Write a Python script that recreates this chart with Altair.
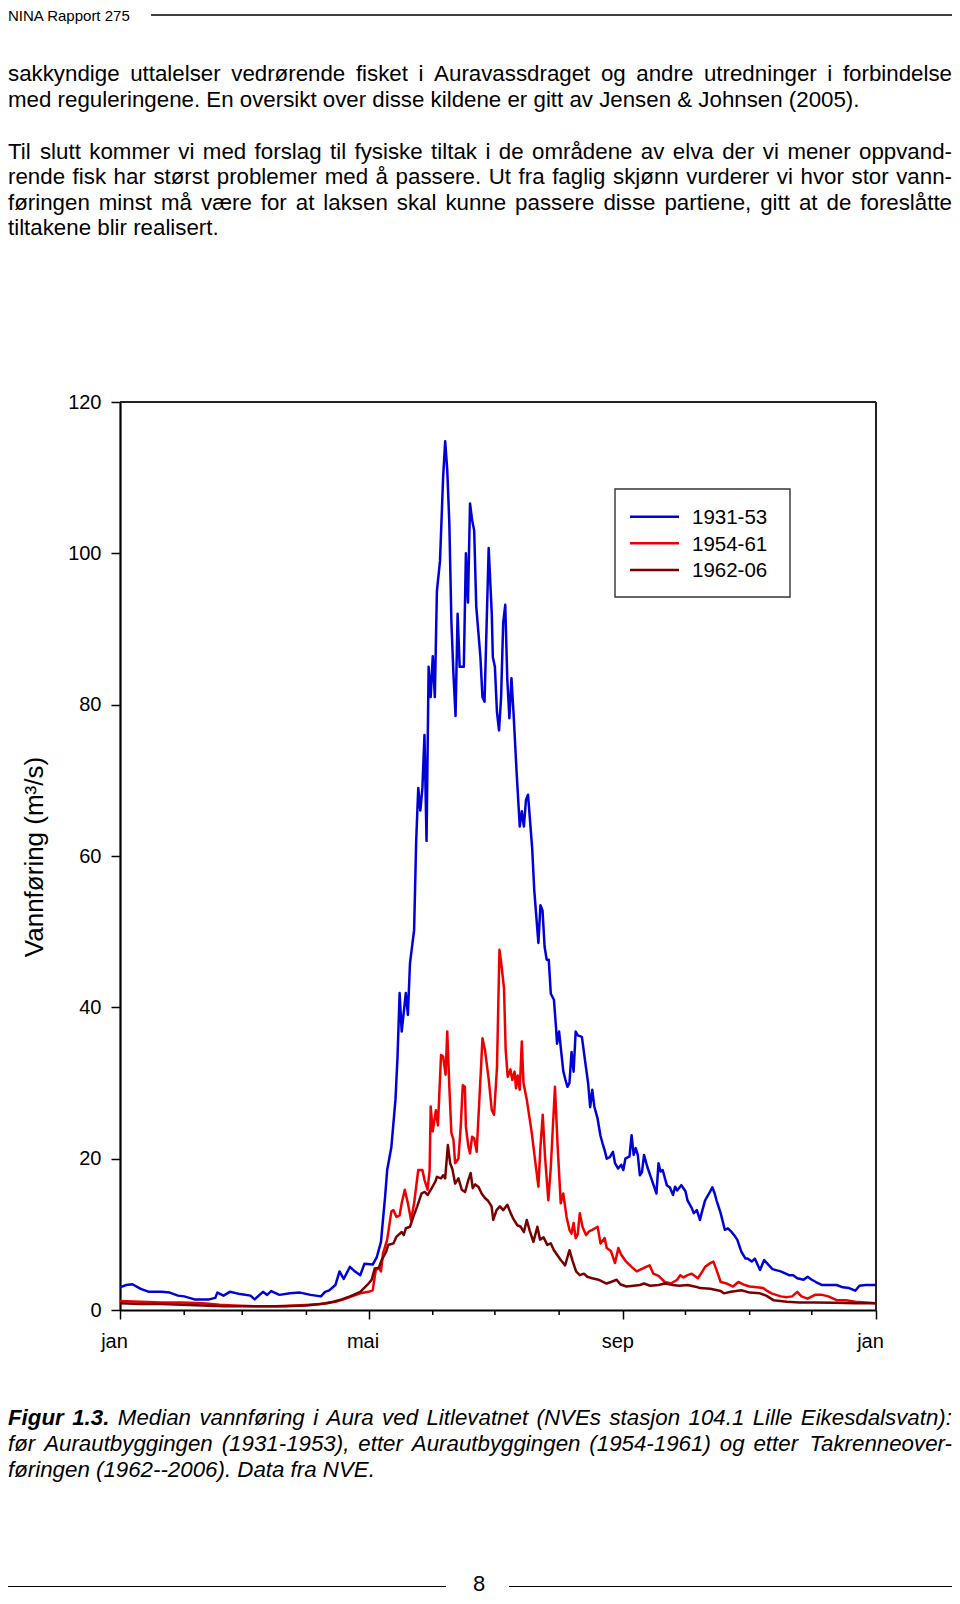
import altair as alt
import pandas as pd

FONT = "Liberation Sans"

# ---------------- text content ----------------
header_label = "NINA Rapport 275"
page_number = "8"
paragraph_1 = [
    "sakkyndige uttalelser vedrørende fisket i Auravassdraget og andre utredninger i forbindelse",
    "med reguleringene. En oversikt over disse kildene er gitt av Jensen & Johnsen (2005).",
]
paragraph_2 = [
    "Til slutt kommer vi med forslag til fysiske tiltak i de områdene av elva der vi mener oppvand-",
    "rende fisk har størst problemer med å passere. Ut fra faglig skjønn vurderer vi hvor stor vann-",
    "føringen minst må være for at laksen skal kunne passere disse partiene, gitt at de foreslåtte",
    "tiltakene blir realisert.",
]
caption_bold = "Figur 1.3."
caption_lines = [
    "Median vannføring i Aura ved Litlevatnet (NVEs stasjon 104.1 Lille Eikesdalsvatn):",
    "før Aurautbyggingen (1931-1953), etter Aurautbyggingen (1954-1961) og etter Takrenneover-",
    "føringen (1962--2006). Data fra NVE.",
]
y_title = "Vannføring (m³/s)"

series_names = ["1931-53", "1954-61", "1962-06"]
series_colors = ["#0000d8", "#ee0000", "#780000"]

month_minor = [31, 59, 90, 151, 181, 212, 273, 304, 334]
major_days = [0, 120, 243, 365]
major_labels = ["jan", "mai", "sep", "jan"]
y_ticks = [0, 20, 40, 60, 80, 100, 120]

# ---------------- data (day of year, m3/s) ----------------
blue_day = [0, 3, 6, 10, 14, 20, 24, 28, 31, 36, 43, 46, 47, 50, 53, 58, 63, 65, 69, 71, 73, 77, 82, 87, 92, 97, 99, 101,
            104, 106, 108, 111, 113, 116, 118, 122, 124, 126, 127, 128, 129, 131, 133, 134, 135, 136, 138, 139, 140, 142,
            143, 144, 145, 146, 147, 148, 149, 150, 151, 152, 153, 154.5, 156, 157, 158, 159, 160, 161, 162, 163, 164,
            166, 167, 168, 169, 170, 171, 172, 174, 175, 176, 178, 179.5, 180, 181, 182, 183, 184, 185, 186, 187, 188,
            189, 190, 191.5, 193, 194, 195, 196, 197, 199, 200, 202, 203, 204, 205, 206, 207, 208, 209.5, 210.5, 211,
            212, 214, 215, 216, 217, 218, 219, 220, 221, 223, 225, 226, 227, 228, 229, 230.5, 232, 233, 234, 235, 236.5,
            238, 239, 240.5, 242, 243, 244, 246, 247, 248, 249, 250, 251, 252, 253, 254.5, 256, 257, 259, 260, 261, 262,
            264, 265.5, 267, 268, 269, 271, 273, 274, 276, 277, 278.5, 280, 281, 282.5, 284, 286, 287, 288, 290, 292,
            293.5, 295, 297, 298, 300, 302, 303, 305, 306.5, 309, 311, 313, 315, 319, 323, 325, 327, 330, 332, 334, 336,
            339, 343, 346, 349, 352, 355, 357, 360, 365]
blue_q = [3.0, 3.3, 3.4, 2.8, 2.4, 2.4, 2.3, 1.9, 1.8, 1.4, 1.4, 1.6, 2.3, 1.9, 2.4, 2.1, 1.9, 1.4, 2.4, 2.0, 2.5, 2.0,
          2.2, 2.3, 2.0, 1.8, 2.4, 2.6, 3.3, 5.1, 4.1, 5.7, 5.2, 4.6, 6.1, 6.0, 7.0, 9.0, 12, 15, 18.5, 21.5, 27.8,
          33.5, 41.9, 36.8, 41.9, 39, 45.8, 50.2, 62, 69, 66, 69, 76, 62, 85, 81, 86.4, 81, 95, 99, 110, 114.8, 111,
          104, 91, 84, 78.5, 92, 85, 85, 100, 93.5, 106.6, 104.4, 103, 93, 86.3, 81, 80.4, 100.7, 92, 86.3, 85, 79,
          76.6, 81, 90.8, 93.2, 83.3, 78.2, 83.5, 78.9, 71, 63.9, 65.9, 63.9, 67.4, 68.1, 61, 55.5, 48.5, 53.5, 52.8,
          48, 46.3, 46.3, 41.8, 41, 37.4, 35.2, 36.8, 31.6, 30.5, 29.5, 30, 34.1, 31.5, 36.8, 36.3, 36.1, 32, 30, 26.8,
          29.1, 26.9, 25.4, 23, 22, 21.1, 20, 20.2, 20.9, 19.4, 18.7, 19.2, 18.5, 20, 20.3, 23.1, 20.5, 21.4, 20.5,
          17.8, 18.2, 20.5, 19, 17.8, 17, 15.4, 19.4, 18.3, 18.5, 16.5, 16.2, 15.2, 16.3, 15.8, 16.5, 15.7, 14.5, 13.5,
          12.8, 13.2, 11.9, 13, 14.5, 15.2, 16.2, 15.5, 14.5, 12.8, 10.6, 10.8, 10.4, 9.7, 9.3, 7.7, 6.8, 6.8, 6.4,
          6.8, 5.3, 6.6, 6.0, 5.4, 5.1, 4.6, 4.6, 4.2, 4.0, 4.4, 4.0, 3.7, 3.3, 3.3, 3.3, 3.0, 2.9, 2.55, 3.2, 3.3, 3.3]

red_day = [0, 10, 20, 30, 40, 48, 55, 65, 75, 85, 92, 97, 101, 104, 108, 111, 116, 120, 122, 123.5, 125, 126, 127, 129,
           131, 132, 133.5, 135, 136, 137.5, 139, 140.5, 142, 144, 146, 147, 148.5, 149.5, 150, 151, 152.5, 153.5, 155,
           156, 157.2, 158, 159, 160, 161, 161.8, 163.4, 164.5, 165.5, 166.5, 167, 168.2, 169, 170, 171, 172.2, 174,
           175, 176.2, 178, 179.5, 180.6, 182, 183.2, 184, 185.4, 186.2, 187.2, 188.5, 189.4, 190.5, 191.2, 192, 193,
           194, 194.8, 196.4, 198.8, 200.4, 202, 203, 204.1, 205.2, 206.8, 208, 210, 211.3, 212.8, 214, 215.6, 217,
           218, 219, 220, 221, 222, 223.3, 225, 226.5, 228, 230.6, 232, 234, 235, 237, 239, 240.6, 242, 244, 247,
           249.5, 251, 254, 255.7, 257.5, 260, 263, 266, 269, 270.5, 272, 274, 276, 279, 280.5, 282.5, 285, 286.5, 288,
           290, 293, 296, 298.5, 301.7, 304, 307.5, 310.5, 312, 314.6, 319, 322, 324.5, 327, 329, 332, 335.5, 339, 342,
           346, 350.5, 355, 365]
red_q = [1.2, 1.1, 1.0, 1.0, 0.9, 0.7, 0.6, 0.5, 0.5, 0.6, 0.7, 0.8, 1.0, 1.1, 1.4, 1.7, 2.2, 2.4, 2.6, 5.3, 5.5, 5.1,
         7.5, 9.3, 13, 13.2, 12.3, 12.5, 14.1, 15.9, 14.1, 11.9, 14.1, 18.5, 18.5, 17.2, 15.9, 18.5, 26.9, 23.6, 26.4,
         24.4, 33.7, 33.5, 31.1, 36.8, 29.5, 23.4, 22.5, 19.4, 20, 24.2, 29.7, 29.5, 24.2, 21.6, 20.7, 22.9, 22.7,
         20.9, 30.4, 35.9, 34.4, 30.5, 26.4, 25.8, 32, 47.6, 46, 42.5, 34.4, 30.8, 31.8, 30.4, 31.5, 29.3, 31, 29.1,
         35.5, 30, 27.8, 23.4, 19.8, 16.3, 21.6, 25.8, 20.3, 14.5, 18.9, 29.5, 21.6, 14.1, 15.4, 12.3, 10.6, 10.1,
         11.5, 9.5, 10, 12.8, 11, 9.9, 10.4, 10.6, 11, 8.8, 9.5, 8.2, 7.8, 6.2, 8.2, 7.3, 6.5, 5.7, 5.1, 5.3, 5.7,
         5.9, 4.8, 4.5, 3.7, 3.5, 4.0, 4.6, 4.3, 4.6, 4.8, 4.2, 4.8, 5.7, 6.2, 6.4, 5.3, 3.7, 3.5, 3.1, 3.7, 3.3, 3.1,
         3.0, 2.9, 2.6, 2.2, 1.8, 1.7, 1.8, 2.4, 1.8, 1.5, 2.0, 2.0, 1.8, 1.3, 1.3, 1.1, 0.9]

dark_day = [0, 10, 20, 30, 40, 50, 60, 70, 80, 90, 100, 103, 107, 111, 116, 120, 121.5, 123, 125, 126.3, 128.5, 129.5,
            132, 133.5, 136, 137, 138, 140, 141.6, 143.5, 145.6, 147.2, 148.5, 150.5, 152.3, 153, 155, 156, 157,
            158.3, 159.4, 160.5, 161.8, 163.4, 165, 166.6, 168.2, 169.3, 170.3, 171.5, 173, 174.6, 176.2, 177.8,
            179.4, 180.2, 181.8, 183.4, 185, 187, 188.6, 190, 191.8, 193.5, 195, 196.4, 197.8, 199.6, 201.5, 202.8,
            204.5, 206.3, 208, 209.5, 211, 212.8, 214.9, 217, 218.5, 220.2, 222, 224, 225.6, 228, 231, 234.9, 237,
            239.8, 241.5, 244.5, 248, 251, 253, 256, 260, 263, 267, 270, 274, 279, 280, 285, 290, 291.5, 295, 300,
            304, 309, 312, 315.5, 322, 328, 335, 345, 355, 365]
dark_q = [0.9, 0.8, 0.8, 0.7, 0.6, 0.5, 0.5, 0.5, 0.5, 0.6, 0.9, 1.1, 1.4, 1.8, 2.4, 3.5, 4.0, 5.5, 5.6, 6.6, 7.7, 8.6,
          8.8, 9.7, 10.3, 9.9, 10.8, 11, 12.3, 13.7, 15.4, 15.6, 15.2, 16.1, 17.0, 17.6, 17.4, 17.8, 17.4, 21.8,
          19.4, 18.6, 16.7, 17.4, 15.9, 15.6, 17.2, 18.1, 16.1, 16.6, 16.3, 15.4, 14.8, 14.4, 13.7, 11.9, 13.2,
          13.7, 13.2, 13.9, 12.8, 12, 11.2, 11, 10.3, 11.9, 10.5, 9.0, 11, 9.3, 9.6, 8.6, 8.8, 7.9, 7.3, 6.6, 5.9,
          7.9, 6.5, 5.1, 4.6, 4.8, 4.4, 4.2, 4.0, 3.5, 3.7, 4.0, 3.4, 3.1, 3.2, 3.3, 3.5, 3.2, 3.3, 3.5, 3.3, 3.2,
          3.3, 3.0, 2.9, 2.8, 2.5, 2.2, 2.4, 2.6, 2.3, 2.2, 1.9, 1.3, 1.1, 1.0, 1.0, 0.95, 0.9, 0.9]

frames = []
for name, d, q in zip(series_names, [blue_day, red_day, dark_day], [blue_q, red_q, dark_q]):
    frames.append(pd.DataFrame({"day": d, "q": q, "series": name}))
df = pd.concat(frames, ignore_index=True)

# ---------------- page geometry (plot area origin = page 120,402) ----------------
PLOT_W, PLOT_H = 756, 908
PAD = {"left": 112, "top": 394, "right": 76, "bottom": 286}
OX, OY = 120, 402
X_LEFT = 8 - OX
X_RIGHT = 952 - OX
BODY_SIZE = 22.3

REG_W = {' ': 278, '!': 278, '&': 667, '(': 333, ')': 333, ',': 278, '-': 333, '.': 278, '/': 278, ':': 278, ';': 278,
         'å': 556, 'ø': 611, 'æ': 889, 'Å': 667, 'Ø': 778, 'Æ': 1000}
for ch in "0123456789":
    REG_W[ch] = 556
REG_W.update(dict(zip("ABCDEFGHIJKLMNOPQRSTUVWXYZ",
                      [667, 667, 722, 722, 667, 611, 778, 722, 278, 500, 667, 556, 833, 722, 778, 667, 778, 722, 667,
                       611, 722, 667, 944, 667, 667, 611])))
REG_W.update(dict(zip("abcdefghijklmnopqrstuvwxyz",
                      [556, 556, 500, 556, 556, 278, 556, 556, 222, 222, 500, 222, 833, 556, 556, 556, 556, 333, 500,
                       278, 556, 500, 722, 500, 500, 500])))
BOLD_W = {'F': 611, 'i': 278, 'g': 611, 'u': 611, 'r': 389, '.': 278, ' ': 278}
for ch in "0123456789":
    BOLD_W[ch] = 556


def text_width(s, size, bold=False):
    tot = 0
    for ch in s:
        if bold and ch in BOLD_W:
            tot += BOLD_W[ch]
        else:
            tot += REG_W.get(ch, 556)
    return tot * size / 1000.0


ONE = alt.Data(values=[{"k": 0}])


def text_mark(txt, x, y, size, weight="normal", style="normal", align="left", baseline="alphabetic"):
    return alt.Chart(ONE).mark_text(
        font=FONT, fontSize=size, fontWeight=weight, fontStyle=style, align=align, baseline=baseline, color="black"
    ).encode(x=alt.value(x), y=alt.value(y), text=alt.value(txt))


def hrule(x1, x2, y, width=1.2, col="black"):
    return alt.Chart(ONE).mark_rule(color=col, strokeWidth=width).encode(
        x=alt.value(x1), x2=alt.value(x2), y=alt.value(y))


def vrule(x, y1, y2, width=1.2, col="black"):
    return alt.Chart(ONE).mark_rule(color=col, strokeWidth=width).encode(
        x=alt.value(x), y=alt.value(y1), y2=alt.value(y2))


def line_layers(words, y, justify, size, style="normal"):
    out = []
    if not justify:
        out.append(text_mark(" ".join(w for w, b in words), X_LEFT, y, size, style=style))
        return out
    widths = [text_width(w, size, b) for w, b in words]
    gap = (X_RIGHT - X_LEFT - sum(widths)) / (len(words) - 1)
    x = X_LEFT
    for i, ((w, b), wd) in enumerate(zip(words, widths)):
        weight = "bold" if b else "normal"
        if i == len(words) - 1:
            out.append(text_mark(w, X_RIGHT, y, size, weight, style, align="right"))
        else:
            out.append(text_mark(w, x, y, size, weight, style))
        x += wd + gap
    return out


layers = []
# header (kept inside the page's drawable area)
layers.append(text_mark(header_label, X_LEFT, 21 - OY, 15))
layers.append(hrule(151 - OX, 952 - OX, 15 - OY, 1.3))

# body paragraphs
body_base = [81, 106.5, 158.5, 184, 209.5, 235]
body_lines = paragraph_1 + paragraph_2
body_just = [True, False, True, True, True, False]
for txt, yb, j in zip(body_lines, body_base, body_just):
    layers += line_layers([(w, False) for w in txt.split(" ")], yb - OY, j, BODY_SIZE)

# caption
cap_base = [1425, 1451, 1477]
cap_words0 = [(w, True) for w in caption_bold.split(" ")] + [(w, False) for w in caption_lines[0].split(" ")]
layers += line_layers(cap_words0, cap_base[0] - OY, True, BODY_SIZE, "italic")
layers += line_layers([(w, False) for w in caption_lines[1].split(" ")], cap_base[1] - OY, True, BODY_SIZE, "italic")
layers += line_layers([(w, False) for w in caption_lines[2].split(" ")], cap_base[2] - OY, False, BODY_SIZE, "italic")

# footer (kept inside the page)
layers.append(hrule(8 - OX, 446 - OX, 1586.5 - OY, 1.2))
layers.append(hrule(509 - OX, 952 - OX, 1586.5 - OY, 1.2))
layers.append(text_mark(page_number, 479 - OX, 1590.5 - OY, 22, align="center"))

# plot frame (top and right edges)
layers.append(hrule(0, PLOT_W, 0, 2, "#222222"))
layers.append(vrule(PLOT_W, 0, PLOT_H, 2, "#222222"))

# ---------------- chart ----------------
x_scale = alt.Scale(domain=[0, 365], nice=False, zero=False)
y_scale = alt.Scale(domain=[0, 120], nice=False)
label_expr = " : ".join(f"datum.value == {d} ? '{l}'" for d, l in zip(major_days, major_labels)) + " : ''"
x_axis = alt.Axis(values=major_days, labelExpr=label_expr, title=None, tickSize=9, tickWidth=1.5, tickColor="black",
                  domainColor="black", domainWidth=2.2, labelFont=FONT, labelFontSize=20, labelColor="black",
                  labelPadding=28.5, labelBaseline="alphabetic", labelOffset=-6, labelFlush=False, labelOverlap=False,
                  grid=False)
y_axis = alt.Axis(values=y_ticks, title=y_title, titleFont=FONT, titleFontSize=26, titleFontWeight="normal",
                  titleColor="black", titleX=-78, titleY=454.5, titleAngle=270, titleBaseline="alphabetic",
                  titleAlign="center", tickSize=9, tickWidth=1.5, tickColor="black", domainColor="black",
                  domainWidth=2.2, labelFont=FONT, labelFontSize=20, labelColor="black", labelPadding=10,
                  grid=False, labelFlush=False)
color = alt.Color("series:N", scale=alt.Scale(domain=series_names, range=series_colors), legend=None)

for name in series_names:
    layers.append(
        alt.Chart(df).transform_filter(alt.datum.series == name).mark_line(strokeWidth=2.5, strokeJoin="round").encode(
            x=alt.X("day:Q", scale=x_scale, axis=x_axis),
            y=alt.Y("q:Q", scale=y_scale, axis=y_axis),
            color=color,
        )
    )

# minor month ticks
layers.append(
    alt.Chart(pd.DataFrame({"day": month_minor})).mark_rule(color="black", strokeWidth=1.5).encode(
        x=alt.X("day:Q", scale=x_scale, axis=x_axis), y=alt.value(PLOT_H), y2=alt.value(PLOT_H + 5))
)

# legend (manual box)
layers.append(
    alt.Chart(ONE).mark_rect(fill="white", stroke="#333333", strokeWidth=1.4).encode(
        x=alt.value(615 - OX), x2=alt.value(790 - OX), y=alt.value(489 - OY), y2=alt.value(597 - OY))
)
for i, (name, col) in enumerate(zip(series_names, series_colors)):
    ly = 516.7 + 26.6 * i - OY
    layers.append(alt.Chart(ONE).mark_rule(color=col, strokeWidth=2.5).encode(
        x=alt.value(630 - OX), x2=alt.value(679 - OX), y=alt.value(ly)))
    layers.append(text_mark(name, 692 - OX, ly + 7.5, 20.5))

chart = alt.LayerChart(layer=layers).properties(
    width=PLOT_W, height=PLOT_H, padding=PAD, autosize=alt.AutoSizeParams(type="none")
).configure_view(stroke=None).configure(background="white")

chart.save("out.html", embed_options={"renderer": "svg", "actions": False})
